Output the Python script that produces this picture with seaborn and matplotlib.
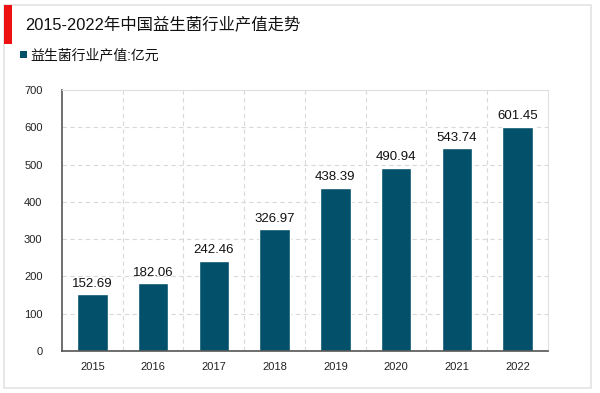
import numpy as np
import pandas as pd
import matplotlib
matplotlib.use('Agg')
import matplotlib.pyplot as plt
import seaborn as sns
from matplotlib.patches import Rectangle

years = ['2015', '2016', '2017', '2018', '2019', '2020', '2021', '2022']
values = [152.69, 182.06, 242.46, 326.97, 438.39, 490.94, 543.74, 601.45]
title = '2015-2022年中国益生菌行业产值走势'
series_name = '益生菌行业产值:亿元'

sns.set_style('white')
plt.rcParams['font.family'] = ['Liberation Sans', 'Noto Sans CJK SC', 'DejaVu Sans']

df = pd.DataFrame({'year': years, 'value': values})
bar_color = '#02506a'

fig = plt.figure(figsize=(6, 3.93), dpi=100)
ax = fig.add_axes([0.1033, 0.107, 0.81, 0.664])

sns.barplot(data=df, x='year', y='value', color=bar_color, width=0.5,
            saturation=1, ax=ax)

ax.set_ylim(0, 700)
ax.set_xlim(-0.5, 7.5)
ax.set_yticks(np.arange(0, 701, 100))
ax.set_xlabel('')
ax.set_ylabel('')
ax.tick_params(axis='both', labelsize=8, length=0, colors='#222222')
ax.tick_params(axis='x', pad=8)
ax.tick_params(axis='y', pad=14)

# gridlines
ax.set_xticks(np.arange(0.5, 7.5, 1), minor=True)
ax.grid(axis='y', which='major', linestyle=(0, (4, 3)), color='#d9d9d9', linewidth=0.8)
ax.grid(axis='x', which='minor', linestyle=(0, (4, 3)), color='#d9d9d9', linewidth=0.8)
ax.grid(axis='x', which='major', visible=False)
ax.tick_params(axis='x', which='minor', length=0)
ax.set_axisbelow(True)

for s in ['top', 'right']:
    ax.spines[s].set_color('#e0e0e0')
    ax.spines[s].set_linewidth(0.8)
for s in ['left', 'bottom']:
    ax.spines[s].set_color('#555555')
    ax.spines[s].set_linewidth(1.2)

for i, v in enumerate(values):
    ax.text(i, v + 12, f'{v:.2f}', ha='center', va='bottom', fontsize=9.5, color='#111111')

# outer frame, red marker, title and legend
fig.patches.append(Rectangle((4 / 600, 5 / 393), 587 / 600, 383 / 393, transform=fig.transFigure,
                             fill=False, edgecolor='#e3e3e3', linewidth=1.2))
fig.patches.append(Rectangle((4 / 600, 1 - 44 / 393), 8 / 600, 39 / 393, transform=fig.transFigure,
                             facecolor='#ee1111', edgecolor='none'))
fig.text(25 / 600, 1 - 25 / 393, title, fontsize=11.8, va='center', ha='left', color='#111111')
fig.patches.append(Rectangle((20 / 600, 1 - 58 / 393), 7 / 600, 7 / 393, transform=fig.transFigure,
                             facecolor=bar_color, edgecolor='none'))
fig.text(30 / 600, 1 - 55 / 393, series_name, fontsize=10, va='center', ha='left', color='#111111')

fig.savefig('out.png', dpi=100)
